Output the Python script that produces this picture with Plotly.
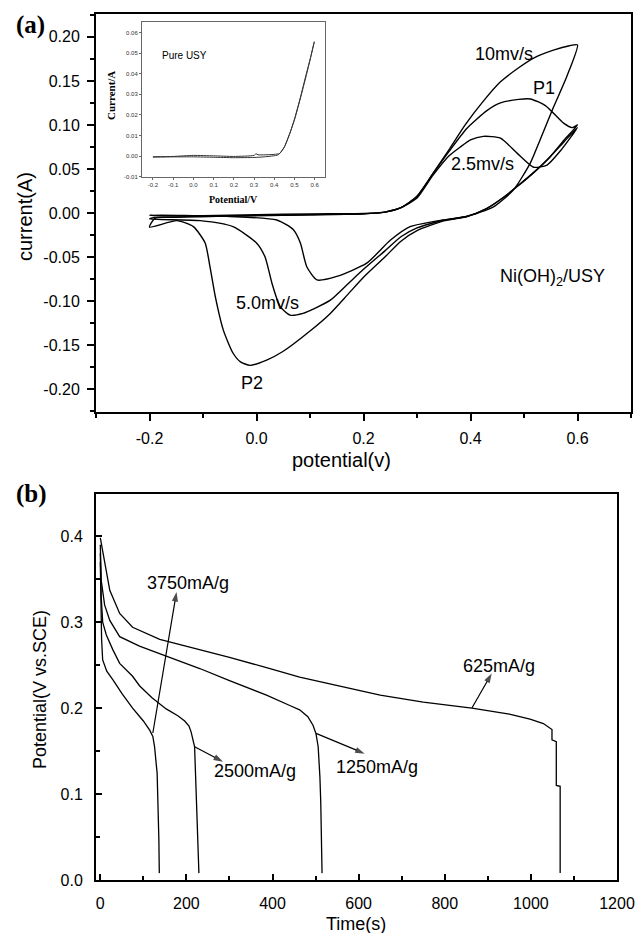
import plotly.graph_objects as go

# ---------------- data: panel (a) cyclic voltammetry ----------------
cv_rates = ["10mv/s", "5.0mv/s", "2.5mv/s"]

cv10_E = [-0.2, -0.19, -0.15, -0.1, 0.0, 0.1, 0.2, 0.24, 0.27, 0.3, 0.33, 0.36, 0.39, 0.424, 0.456, 0.49, 0.518, 0.555, 0.585, 0.6,
          0.58, 0.555, 0.53, 0.512, 0.48, 0.443, 0.393, 0.35, 0.3, 0.27, 0.24, 0.2, 0.17, 0.138, 0.1, 0.05, 0.019, -0.012, -0.03,
          -0.044, -0.062, -0.077, -0.087, -0.096, -0.118, -0.149, -0.2]
cv10_I = [-0.016, -0.006, -0.005, -0.004, -0.003, -0.002, -0.001, 0.001, 0.006, 0.019, 0.045, 0.072, 0.1, 0.127, 0.149, 0.165, 0.176, 0.185, 0.19, 0.191,
          0.155, 0.12, 0.083, 0.057, 0.026, 0.007, -0.004, -0.009, -0.02, -0.032, -0.05, -0.073, -0.093, -0.114, -0.134, -0.157, -0.167, -0.173, -0.169,
          -0.159, -0.133, -0.095, -0.061, -0.034, -0.0155, -0.0087, -0.016]

cv5_E = [-0.2, -0.19, -0.1, 0.0, 0.1, 0.2, 0.24, 0.27, 0.3, 0.33, 0.36, 0.393, 0.43, 0.456, 0.49, 0.512, 0.54, 0.574, 0.59, 0.6,
         0.575, 0.549, 0.52, 0.487, 0.46, 0.43, 0.393, 0.35, 0.3, 0.27, 0.24, 0.2, 0.17, 0.138, 0.11, 0.087, 0.063, 0.044, 0.029, 0.016,
         0.0, -0.044, -0.105, -0.2]
cv5_I = [-0.0068, -0.005, -0.004, -0.003, -0.002, -0.001, 0.001, 0.006, 0.019, 0.045, 0.07, 0.096, 0.116, 0.125, 0.129, 0.1295, 0.122, 0.102, 0.097, 0.1,
         0.083, 0.064, 0.047, 0.03, 0.017, 0.005, -0.004, -0.008, -0.017, -0.027, -0.043, -0.064, -0.081, -0.099, -0.108, -0.114, -0.116, -0.106, -0.080, -0.050,
         -0.034, -0.0155, -0.0087, -0.0068]

cv25_E = [-0.2, -0.19, -0.1, 0.0, 0.1, 0.2, 0.24, 0.27, 0.3, 0.33, 0.36, 0.381, 0.4, 0.424, 0.456, 0.487, 0.518, 0.543, 0.57, 0.6,
          0.575, 0.549, 0.52, 0.487, 0.46, 0.43, 0.393, 0.33, 0.287, 0.25, 0.206, 0.15, 0.113, 0.094, 0.082, 0.069, 0.038, -0.05, -0.2]
cv25_I = [-0.0023, -0.003, -0.003, -0.002, -0.001, -0.0005, 0.001, 0.006, 0.017, 0.043, 0.065, 0.075, 0.083, 0.087, 0.085, 0.068, 0.052, 0.0545, 0.072, 0.097,
          0.081, 0.064, 0.047, 0.03, 0.017, 0.005, -0.004, -0.0098, -0.0155, -0.031, -0.057, -0.072, -0.076, -0.061, -0.034, -0.019, -0.008, -0.004, -0.0023]

# inset: pure USY
usy_E = [-0.2, -0.1, 0.0, 0.1, 0.2, 0.3, 0.31, 0.32, 0.4, 0.427, 0.45, 0.477, 0.5, 0.526, 0.559, 0.58, 0.598,
         0.56, 0.5, 0.45, 0.42, 0.35, 0.3, 0.2, 0.1, 0.0, -0.1, -0.2]
usy_I = [-0.0004, -0.0002, 0.0003, 0.0001, -0.0002, 0.0003, 0.0011, 0.0006, 0.0008, 0.0013, 0.0045, 0.011, 0.018, 0.0272, 0.0402, 0.048, 0.0556,
         0.0398, 0.0176, 0.0043, 0.0006, -0.0004, -0.0007, -0.0008, -0.0006, -0.0004, -0.0004, -0.0005]

# ---------------- data: panel (b) galvanostatic discharge ----------------
dis_labels = ["625mA/g", "1250mA/g", "2500mA/g", "3750mA/g"]
t625 = [0, 10, 22, 45, 75, 138, 231, 300, 386, 463, 533, 650, 750, 863, 950, 998, 1029, 1037, 1049, 1049, 1059, 1059, 1068, 1068]
v625 = [0.398, 0.368, 0.337, 0.31, 0.294, 0.280, 0.268, 0.259, 0.247, 0.236, 0.228, 0.215, 0.207, 0.2, 0.193, 0.187, 0.182, 0.179, 0.175, 0.163, 0.161, 0.110, 0.109, 0.008]
t1250 = [0, 2, 10, 22, 45, 91, 150, 231, 300, 386, 440, 463, 482, 494, 501, 506, 510, 512, 515]
v1250 = [0.39, 0.349, 0.32, 0.302, 0.283, 0.272, 0.261, 0.246, 0.232, 0.215, 0.203, 0.198, 0.19, 0.18, 0.17, 0.155, 0.12, 0.09, 0.008]
t2500 = [0, 2, 5.5, 14, 29, 45, 75, 91, 120, 153, 180, 196, 206, 211, 219, 223, 227, 229]
v2500 = [0.38, 0.33, 0.3, 0.285, 0.268, 0.252, 0.237, 0.226, 0.212, 0.199, 0.191, 0.185, 0.179, 0.172, 0.155, 0.105, 0.0465, 0.008]
t3750 = [0, 1, 3, 5.5, 15, 29, 50, 75, 100, 115, 122, 126, 132, 136, 137]
v3750 = [0.37, 0.33, 0.28, 0.256, 0.243, 0.233, 0.217, 0.2, 0.185, 0.174, 0.167, 0.155, 0.124, 0.047, 0.008]

# arrow annotations (tail on curve -> head near label)
arrow_tail_t = [863, 501, 219, 122]
arrow_tail_v = [0.2, 0.1705, 0.155, 0.171]
arrow_head_t = [909, 614, 285, 177]
arrow_head_v = [0.2403, 0.147, 0.1376, 0.335]
label_t = [925, 642, 360, 204]
label_v = [0.2488, 0.132, 0.1267, 0.345]

# tick labels
a_xticks = [-0.2, 0.0, 0.2, 0.4, 0.6]
a_xtext = ["-0.2", "0.0", "0.2", "0.4", "0.6"]
a_yticks = [-0.20, -0.15, -0.10, -0.05, 0.00, 0.05, 0.10, 0.15, 0.20]
a_ytext = ["-0.20", "-0.15", "-0.10", "-0.05", "0.00", "0.05", "0.10", "0.15", "0.20"]
in_xticks = [-0.2, -0.1, 0.0, 0.1, 0.2, 0.3, 0.4, 0.5, 0.6]
in_xtext = ["-0.2", "-0.1", "0.0", "0.1", "0.2", "0.3", "0.4", "0.5", "0.6"]
in_yticks = [-0.01, 0.0, 0.01, 0.02, 0.03, 0.04, 0.05, 0.06]
in_ytext = ["-0.01", "0.00", "0.01", "0.02", "0.03", "0.04", "0.05", "0.06"]
b_xticks = [0, 200, 400, 600, 800, 1000, 1200]
b_xtext = ["0", "200", "400", "600", "800", "1000", "1200"]
b_yticks = [0.0, 0.1, 0.2, 0.3, 0.4]
b_ytext = ["0.0", "0.1", "0.2", "0.3", "0.4"]

# ---------------- figure ----------------
W, H = 635, 933
SANS = "Liberation Sans, Arial, sans-serif"
SERIF = "Liberation Serif, Times New Roman, serif"


def fx(p):
    return p / W


def fy(p):
    return (H - p) / H


fig = go.Figure()
LW = 1.4
for E, I, name in [(cv10_E, cv10_I, cv_rates[0]), (cv5_E, cv5_I, cv_rates[1]), (cv25_E, cv25_I, cv_rates[2])]:
    fig.add_trace(go.Scatter(x=E, y=I, mode="lines", name=name, xaxis="x", yaxis="y",
                             line=dict(color="black", width=LW, shape="spline", smoothing=0.6)))

fig.add_trace(go.Scatter(x=usy_E, y=usy_I, mode="lines", name="Pure USY", xaxis="x3", yaxis="y3",
                         line=dict(color="#333333", width=1, shape="spline", smoothing=0.5)))

for t, v, name in [(t625, v625, dis_labels[0]), (t1250, v1250, dis_labels[1]),
                   (t2500, v2500, dis_labels[2]), (t3750, v3750, dis_labels[3])]:
    fig.add_trace(go.Scatter(x=t, y=v, mode="lines", name=name, xaxis="x2", yaxis="y2",
                             line=dict(color="black", width=1.3)))

# arrows in panel (b): a line from the curve with an arrow-head marker at the end
for tt, tv, ht, hv in zip(arrow_tail_t, arrow_tail_v, arrow_head_t, arrow_head_v):
    fig.add_trace(go.Scatter(x=[tt, ht], y=[tv, hv], mode="lines+markers", xaxis="x2", yaxis="y2",
                             line=dict(color="black", width=1.2),
                             marker=dict(symbol=["circle", "arrow"], size=[0, 10], angleref="previous",
                                         color="black", line=dict(width=0)),
                             hoverinfo="skip"))

axis_common = dict(showline=True, linecolor="black", linewidth=2, mirror=True, showgrid=False,
                   zeroline=False, tickcolor="black", tickmode="array", automargin=False,
                   tickfont=dict(family=SANS, size=16, color="black"))

fig.update_layout(
    template="none",
    width=W, height=H, margin=dict(l=0, r=0, t=0, b=0, pad=0), autosize=False,
    paper_bgcolor="white", plot_bgcolor="white", showlegend=False,
    xaxis=dict(axis_common, domain=[fx(96), fx(631)], range=[-0.3, 0.7], anchor="y",
               tickvals=a_xticks, ticktext=a_xtext, ticks="outside", ticklen=7, tickwidth=1.5,
               ticklabelstandoff=4,
               minor=dict(tickmode="linear", tick0=-0.3, dtick=0.1, ticks="outside", ticklen=4,
                          tickcolor="black", tickwidth=1.5)),
    yaxis=dict(axis_common, domain=[fy(412), fy(14)], range=[-0.226, 0.226], anchor="x",
               tickvals=a_yticks, ticktext=a_ytext, ticks="outside", ticklen=7, tickwidth=1.5,
               ticklabelstandoff=4,
               minor=dict(tickmode="linear", tick0=-0.225, dtick=0.025, ticks="outside", ticklen=4,
                          tickcolor="black", tickwidth=1.5)),
    xaxis2=dict(axis_common, domain=[fx(96), fx(617)], range=[-10, 1200], anchor="y2",
                tickvals=b_xticks, ticktext=b_xtext, ticks="inside", ticklen=6, tickwidth=1.5,
                ticklabelstandoff=8,
                minor=dict(tickmode="linear", tick0=0, dtick=100, ticks="inside", ticklen=4,
                           tickcolor="black", tickwidth=1.5)),
    yaxis2=dict(axis_common, domain=[fy(880), fy(494)], range=[0, 0.449], anchor="x2",
                tickvals=b_yticks, ticktext=b_ytext, ticks="inside", ticklen=6, tickwidth=1.5,
                ticklabelstandoff=8,
                minor=dict(tickmode="linear", tick0=0, dtick=0.05, ticks="inside", ticklen=4,
                           tickcolor="black", tickwidth=1.5)),
    xaxis3=dict(showline=True, linecolor="#666666", linewidth=1, mirror=True, showgrid=False, zeroline=False,
                automargin=False, domain=[fx(142), fx(325)], range=[-0.254, 0.651], anchor="y3",
                tickmode="array", tickvals=in_xticks, ticktext=in_xtext, ticks="outside", ticklen=2,
                tickcolor="#666666", tickwidth=1, tickfont=dict(family=SANS, size=6, color="#333333")),
    yaxis3=dict(showline=True, linecolor="#666666", linewidth=1, mirror=True, showgrid=False, zeroline=False,
                automargin=False, domain=[fy(177), fy(22)], range=[-0.0102, 0.0652], anchor="x3",
                tickmode="array", tickvals=in_yticks, ticktext=in_ytext, ticks="outside", ticklen=2,
                tickcolor="#666666", tickwidth=1, tickfont=dict(family=SANS, size=6, color="#333333")),
)

ann = []
# panel labels
ann.append(dict(text="<b>(a)</b>", x=fx(30), y=fy(25), xref="paper", yref="paper", showarrow=False,
                font=dict(family=SERIF, size=25, color="black"), xanchor="center", yanchor="middle"))
ann.append(dict(text="<b>(b)</b>", x=fx(31), y=fy(494), xref="paper", yref="paper", showarrow=False,
                font=dict(family=SERIF, size=25, color="black"), xanchor="center", yanchor="middle"))
# axis titles
ann.append(dict(text="current(A)", x=fx(25), y=fy(217), xref="paper", yref="paper", showarrow=False,
                textangle=-90, font=dict(family=SANS, size=20, color="black"), xanchor="center", yanchor="middle"))
ann.append(dict(text="potential(v)", x=fx(341), y=fy(460), xref="paper", yref="paper", showarrow=False,
                font=dict(family=SANS, size=20, color="black"), xanchor="center", yanchor="middle"))
ann.append(dict(text="Potential(V vs.SCE)", x=fx(40), y=fy(690), xref="paper", yref="paper", showarrow=False,
                textangle=-90, font=dict(family=SANS, size=18, color="black"), xanchor="center", yanchor="middle"))
ann.append(dict(text="Time(s)", x=fx(356), y=fy(924), xref="paper", yref="paper", showarrow=False,
                font=dict(family=SANS, size=18, color="black"), xanchor="center", yanchor="middle"))
# inset titles
ann.append(dict(text="<b>Current/A</b>", x=fx(111), y=fy(96), xref="paper", yref="paper", showarrow=False,
                textangle=-90, font=dict(family=SERIF, size=11, color="black"), xanchor="center", yanchor="middle"))
ann.append(dict(text="<b>Potential/V</b>", x=fx(233), y=fy(199), xref="paper", yref="paper", showarrow=False,
                font=dict(family=SERIF, size=10, color="black"), xanchor="center", yanchor="middle"))
ann.append(dict(text="Pure USY", x=-0.044, y=0.0487, xref="x3", yref="y3", showarrow=False,
                font=dict(family=SANS, size=10, color="black"), xanchor="center", yanchor="middle"))

# panel (a) labels
a_labels = ["10mv/s", "P1", "2.5mv/s", "Ni(OH)<sub>2</sub>/USY", "5.0mv/s", "P2"]
a_lab_x = [0.462, 0.537, 0.423, 0.553, 0.0205, -0.0082]
a_lab_y = [0.181, 0.1417, 0.0557, -0.0727, -0.102, -0.1935]
for s, x, y in zip(a_labels, a_lab_x, a_lab_y):
    ann.append(dict(text=s, x=x, y=y, xref="x", yref="y", showarrow=False,
                    font=dict(family=SANS, size=18, color="black"), xanchor="center", yanchor="middle"))

# panel (b) labels
for s, lt, lv in zip(dis_labels, label_t, label_v):
    ann.append(dict(text=s, x=lt, y=lv, xref="x2", yref="y2", showarrow=False,
                    font=dict(family=SANS, size=18, color="black"), xanchor="center", yanchor="middle"))

fig.update_layout(annotations=ann)
fig.write_html("out.html")
